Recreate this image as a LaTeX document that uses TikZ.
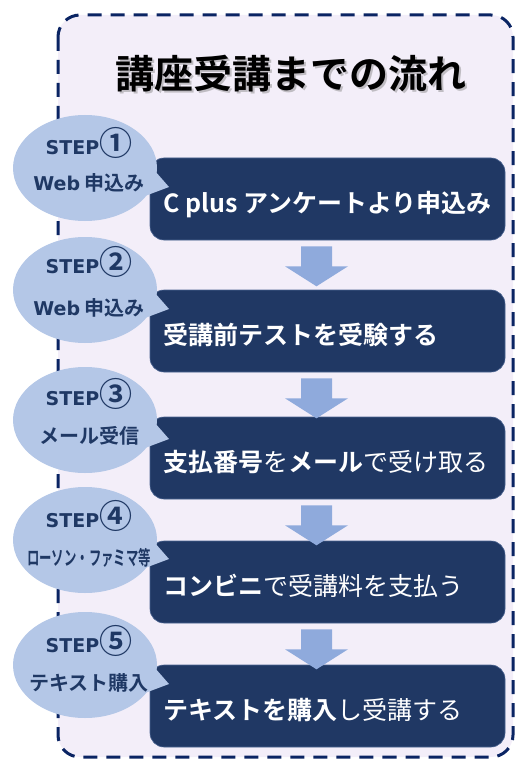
\documentclass[tikz,border=0pt]{standalone}
\usepackage{fontspec}
\usepackage{graphicx}
\setmainfont{Noto Sans CJK JP}[BoldFont={Noto Sans CJK JP Bold}]
\newfontfamily\latinb{DejaVu Sans}
\usetikzlibrary{calc,shapes.geometric}
\definecolor{navy}{HTML}{203864}
\definecolor{boxedge}{HTML}{4A6391}
\definecolor{bubblec}{HTML}{B4C7E7}
\definecolor{arrowc}{HTML}{8FAADC}
\definecolor{lav}{HTML}{F3EEF9}
\definecolor{dashc}{HTML}{0A2463}
\definecolor{bubtext}{HTML}{1F3864}
\newcommand{\stepnum}[1]{{\latinb\bfseries\fontsize{19pt}{19pt}\selectfont STEP}\raisebox{-1.5pt}{\bfseries\fontsize{33pt}{33pt}\selectfont #1}}
\begin{document}
\begin{tikzpicture}[x=1pt,y=-1pt,
  stepbox/.style={draw=boxedge, line width=0.6pt, fill=navy, rounded corners=14pt, minimum width=355pt, minimum height=82pt, inner sep=0pt},
  boxtext/.style={anchor=base west, text=white, font=\fontsize{25pt}{25pt}\selectfont, inner sep=0pt},
  bubble/.style={ellipse, fill=bubblec, minimum width=144pt, minimum height=106pt, inner sep=0pt},
  steptext/.style={anchor=base, text=bubtext, inner sep=0pt},
  subtext/.style={anchor=base, text=bubtext, font=\bfseries\fontsize{20pt}{20pt}\selectfont, inner sep=0pt},
  titletext/.style={anchor=base, font=\bfseries\fontsize{39pt}{39pt}\selectfont, inner sep=0pt},
  downarrow/.pic={\fill[arrowc] (-15.5,0) -- (15.5,0) -- (15.5,20) -- (31.5,20) -- (0,40) -- (-31.5,20) -- (-15.5,20) -- cycle;}
]
\useasboundingbox (0,0) rectangle (515,762);
% frame
\draw[dashc, line width=3pt, dash pattern=on 14pt off 9pt, fill=lav, rounded corners=22pt] (58,15) rectangle (513,757);
% title
\node[titletext, text=black!45, opacity=0.5] (titleshadow) at (292.5,90.5) {講座受講までの流れ};
\node[titletext, text=black] (title) at (291,89) {講座受講までの流れ};
% boxes
\node[stepbox] (b1) at (327.5,199) {};
\node[stepbox] (b2) at (327.5,331) {};
\node[stepbox] (b3) at (327.5,458) {};
\node[stepbox] (b4) at (327.5,582) {};
\node[stepbox] (b5) at (327.5,706) {};
\node[boxtext] (t1) at (163,212.5) {\bfseries C plus アンケートより申込み};
\node[boxtext] (t2) at (163,344.5) {\bfseries 受講前テストを受験する};
\node[boxtext] (t3) at (163,471.5) {{\bfseries 支払番号}を{\bfseries メール}で受け取る};
\node[boxtext] (t4) at (163,595.5) {{\bfseries コンビニ}で受講料を支払う};
\node[boxtext] (t5) at (163,719.5) {{\bfseries テキストを購入}し受講する};
% arrows
\pic at ($(b1.south)+(-11,6)$) {downarrow};
\pic at ($(b2.south)+(-11,6)$) {downarrow};
\pic at ($(b3.south)+(-11,6)$) {downarrow};
\pic at ($(b4.south)+(-11,6)$) {downarrow};
% bubbles
\node[bubble] (s1) at (85,168) {};
\node[bubble] (s2) at (85,290) {};
\node[bubble] (s3) at (85,420) {};
\node[bubble] (s4) at (85,540) {};
\node[bubble] (s5) at (85,665) {};
\foreach \s in {s1,s2,s3,s4,s5}{
  \fill[bubblec] ($(\s.center)+(70,3)$) -- ($(\s.center)+(84,19)$) -- ($(\s.center)+(60,28)$) -- cycle;
}
\node[steptext] (st1) at (89,154.5) {\stepnum{①}};
\node[steptext] (st2) at (89,273) {\stepnum{②}};
\node[steptext] (st3) at (89,405) {\stepnum{③}};
\node[steptext] (st4) at (89,527) {\stepnum{④}};
\node[steptext] (st5) at (89,652) {\stepnum{⑤}};
\node[subtext] (sb1) at (89,190) {{\latinb\fontsize{19pt}{19pt}\selectfont Web} 申込み};
\node[subtext] (sb2) at (89,315) {{\latinb\fontsize{19pt}{19pt}\selectfont Web} 申込み};
\node[subtext] (sb3) at (89,443) {メール受信};
\node[subtext] (sb4) at (89,565) {\scalebox{0.62}[1]{ローソン・ファミマ等}};
\node[subtext] (sb5) at (89,690) {テキスト購入};
\end{tikzpicture}
\end{document}
